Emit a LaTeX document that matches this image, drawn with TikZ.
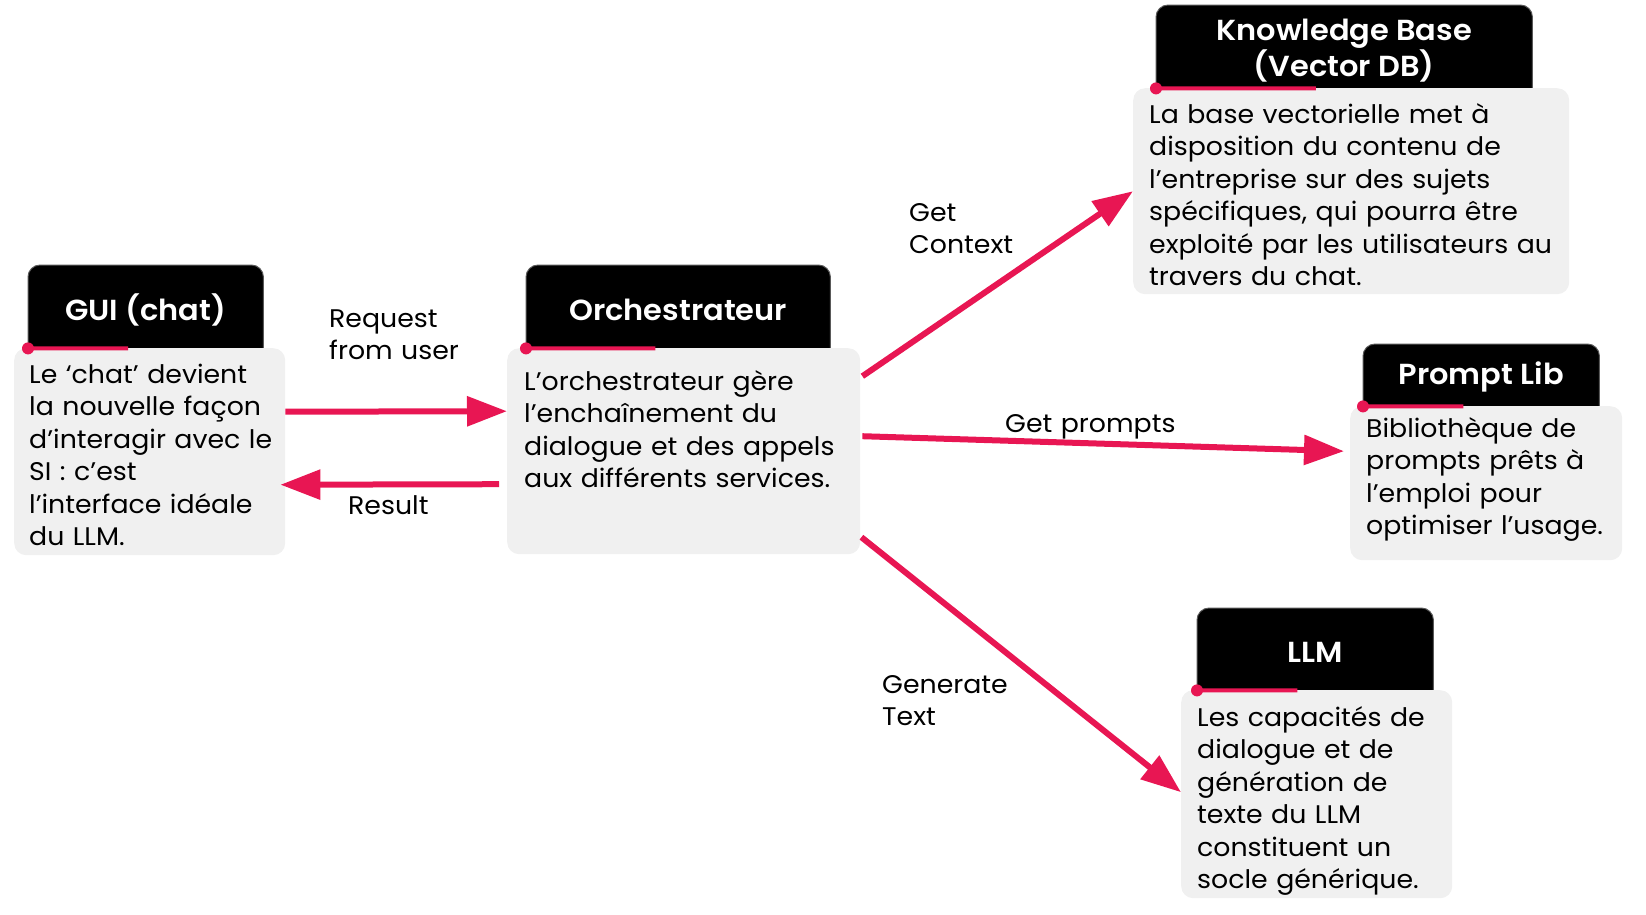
\documentclass[tikz,border=0pt]{standalone}
\usepackage{fontspec}
\setmainfont{Poppins}[FakeStretch=1.05,BoldFont={Poppins SemiBold}]
\usepackage{tikz}
\usetikzlibrary{positioning,arrows.meta,calc}
\pgfdeclarelayer{background}
\pgfsetlayers{background,main}
\definecolor{accent}{RGB}{232,22,83}
\definecolor{cardgray}{RGB}{240,240,240}

\begin{document}
\begin{tikzpicture}[x=1pt,y=-1pt,
    tab/.style={text=white,font=\fontsize{29}{36}\selectfont\bfseries,align=center,
        anchor=north west,inner sep=0pt,text height=28pt,text depth=1pt},
    tabfill/.style={fill=black,draw=black!65,line width=1pt,rounded corners=12pt},
    card/.style={fill=cardgray,rounded corners=12pt,anchor=north west,inner sep=0pt},
    txt/.style={font=\fontsize{25.5}{32.5}\selectfont,align=left,anchor=base west,
        inner sep=0pt,text width=440pt},
    redbar/.style={draw=accent,line width=4pt},
    flow/.style={draw=accent,line width=6pt,-{Triangle[length=40pt,width=29pt]}}]
\useasboundingbox (0,0) rectangle (1646,914);

% cards
\node[tab,minimum width=235pt,minimum height=83pt] (guiH) at (28,265) {GUI (chat)};
\node[card,minimum width=271pt,minimum height=207pt] (gui) at (14,348) {};
\node[txt] (guiT) at ([xshift=15pt,yshift=-35pt]gui.north west)
    {Le ‘chat’ devient\\la nouvelle façon\\d’interagir avec le\\SI : c’est\\l’interface idéale\\du LLM.};

\node[tab,minimum width=304pt,minimum height=83pt] (orchH) at (526,265) {Orchestrateur};
\node[card,minimum width=353pt,minimum height=206pt] (orch) at (507,348) {};
\node[txt] (orchT) at ([xshift=17pt,yshift=-42pt]orch.north west)
    {L’orchestrateur gère\\l’enchaînement du\\dialogue et des appels\\aux différents services.};

\node[tab,minimum width=376pt,minimum height=83pt,text height=66pt,text depth=7pt] (kbH) at (1156,5) {Knowledge Base\\(Vector DB)};
\node[card,minimum width=436pt,minimum height=206pt] (kb) at (1133,88) {};
\node[txt] (kbT) at ([xshift=16pt,yshift=-35pt]kb.north west)
    {La base vectorielle met à\\disposition du contenu de\\l’entreprise sur des sujets\\spécifiques, qui pourra être\\exploité par les utilisateurs au\\travers du chat.};

\node[tab,minimum width=236pt,minimum height=62pt,text height=24pt,text depth=5pt] (promptH) at (1363,344) {Prompt Lib};
\node[card,minimum width=272pt,minimum height=154pt] (prompt) at (1350,406) {};
\node[txt] (promptT) at ([xshift=16pt,yshift=-31pt]prompt.north west)
    {Bibliothèque de\\prompts prêts à\\l’emploi pour\\optimiser l’usage.};

\node[tab,minimum width=236pt,minimum height=82pt] (llmH) at (1197,608) {LLM};
\node[card,minimum width=271pt,minimum height=208pt] (llm) at (1181,690) {};
\node[txt] (llmT) at ([xshift=16pt,yshift=-36pt]llm.north west)
    {Les capacités de\\dialogue et de\\génération de\\texte du LLM\\constituent un\\socle générique.};

% black tabs behind the titles
\begin{pgfonlayer}{background}
\foreach \t in {guiH,orchH,kbH,promptH,llmH}
    \filldraw[tabfill] (\t.south west) -- (\t.north west) -- (\t.north east) -- (\t.south east);
\end{pgfonlayer}

% red marks under the tabs
\foreach \t in {guiH,orchH,kbH,promptH,llmH}{
    \draw[redbar] (\t.south west) -- ($(\t.south west)!0.425!(\t.south east)$);
    \fill[accent] (\t.south west) circle (6pt);
}

% flows
\draw[flow] ([yshift=40pt]gui.east) -- ([yshift=40pt]orch.west);
\draw[flow] ([xshift=-8pt,yshift=-33pt]orch.west) -- ([xshift=-5pt,yshift=-33pt]gui.east);
\draw[flow] ([xshift=2pt,yshift=75pt]orch.east) -- (kb.west);
\draw[flow] ([xshift=2pt,yshift=15pt]orch.east) -- ([xshift=-6pt,yshift=32pt]prompt.west);
\draw[flow] ([xshift=1pt,yshift=-86pt]orch.east) -- ([yshift=2pt]llm.west);

% labels
\node[txt] (reqL) at (329,327) {Request\\from user};
\node[txt] (resL) at (348,514) {Result};
\node[txt] (ctxL) at (909,221) {Get\\Context};
\node[txt] (prmL) at (1005,432) {Get prompts};
\node[txt] (genL) at (882,693) {Generate\\Text};
\end{tikzpicture}
\end{document}
